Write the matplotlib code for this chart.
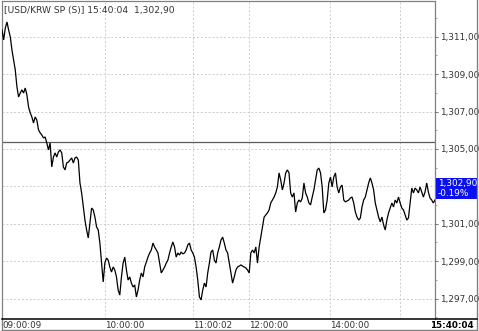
import matplotlib
matplotlib.use("Agg")
import matplotlib.pyplot as plt
import matplotlib.transforms as mtransforms
from matplotlib.patches import Rectangle
from matplotlib.lines import Line2D

# ---------------- data ----------------
title_text = "[USD/KRW SP (S)] 15:40:04  1,302,90"
last_price_label = "1,302,90"
change_label = "-0.19%"
last_price = 1302.90
prev_close = 1305.38

prices = [
    1311.36, 1310.83, 1311.47, 1311.79, 1311.36, 1310.99, 1310.29, 1309.76, 1309.22, 1308.32,
    1307.78, 1307.99, 1308.16, 1307.99, 1308.26, 1307.89, 1307.25, 1306.93, 1306.71, 1306.39,
    1306.71, 1306.55, 1306.02, 1305.86, 1305.75, 1305.59, 1305.64, 1305.32, 1304.95, 1305.32,
    1304.04, 1304.57, 1304.79, 1304.57, 1304.84, 1304.95, 1304.79, 1304.04, 1303.88, 1304.25,
    1304.30, 1304.41, 1304.52, 1304.25, 1304.52, 1304.57, 1304.41, 1303.18, 1302.65, 1301.90,
    1301.20, 1300.67, 1300.24, 1301.04, 1301.84, 1301.74, 1301.36, 1300.83, 1300.67, 1299.97,
    1298.90, 1297.89, 1298.90, 1299.17, 1299.06, 1298.69, 1298.42, 1298.69, 1298.53, 1298.16,
    1297.46, 1297.19, 1298.16, 1298.90, 1299.22, 1298.53, 1297.99, 1298.16, 1297.83, 1297.62,
    1297.73, 1297.09, 1297.46, 1297.99, 1298.37,
    1298.16, 1298.69, 1298.96, 1299.22, 1299.44, 1299.60, 1299.97, 1299.76, 1299.60, 1299.44,
    1298.90, 1298.37, 1298.53, 1298.69, 1298.90, 1299.06, 1299.44, 1299.76, 1300.03, 1299.76,
    1299.22, 1299.44, 1299.33, 1299.49, 1299.39, 1299.44, 1299.60, 1299.87, 1299.97, 1299.60,
    1299.44, 1299.22, 1298.69, 1297.99, 1297.09, 1296.93, 1297.46, 1297.83, 1297.62, 1298.37,
    1298.90, 1299.49, 1299.60, 1299.06, 1298.90, 1299.44, 1299.76, 1300.13, 1300.29, 1299.97,
    1299.60, 1299.44, 1298.90, 1298.37, 1297.83, 1298.16, 1298.53, 1298.69, 1298.74, 1298.80,
    1298.74, 1298.69, 1298.64, 1298.53, 1298.37, 1299.44, 1299.60, 1299.44, 1299.76, 1298.90,
    1299.76, 1300.29, 1300.83, 1301.36, 1301.47, 1301.58, 1301.74, 1302.11, 1302.27, 1302.43,
    1302.65, 1302.97, 1303.72, 1303.34, 1302.81, 1303.18, 1303.72, 1303.88, 1303.72, 1302.65,
    1302.43, 1302.65, 1301.63, 1302.11, 1302.27, 1302.17, 1302.38, 1303.18, 1302.65, 1302.43,
    1302.11, 1302.01, 1302.43, 1302.81, 1303.34, 1303.88, 1303.98, 1303.72, 1302.97, 1301.58,
    1301.74, 1302.27, 1303.18, 1303.50, 1302.97, 1303.50, 1303.72, 1302.97, 1302.65, 1302.97,
    1303.07, 1302.27, 1302.17, 1302.22, 1302.27, 1302.38, 1302.43, 1302.11, 1301.63, 1301.36,
    1301.20, 1301.31, 1301.90, 1302.27, 1302.43, 1302.81, 1303.18, 1303.45, 1303.18, 1302.81,
    1302.11, 1301.74, 1301.36, 1301.10, 1301.36, 1300.94, 1300.67, 1301.20, 1301.58, 1301.84,
    1302.11, 1301.90, 1302.27, 1302.11, 1302.43, 1302.11, 1301.84, 1301.74, 1301.47, 1301.20,
    1301.31, 1302.11, 1302.91, 1302.65, 1302.91, 1302.81, 1302.65, 1302.97, 1302.70, 1302.43,
    1302.70, 1303.18, 1302.70, 1302.38, 1302.27, 1302.11, 1302.27,
]

# time-axis ticks (sample index) and labels
grid_idx = [62, 115, 149, 198, 240]
time_label_idx = [0, 62, 115, 149, 198]
time_labels = ["09:00:09", "10:00:00", "11:00:02", "12:00:00", "14:00:00"]
end_time_label = "15:40:04"

price_ticks = [1297, 1299, 1301, 1303, 1305, 1307, 1309, 1311]
price_labels = ["1,297,00", "1,299,00", "1,301,00", "", "1,305,00", "1,307,00", "1,309,00", "1,311,00"]
minor_ticks = [1296, 1298, 1300, 1302, 1304, 1306, 1308, 1310, 1312]

# ---------------- figure ----------------
W, H = 479, 331
fig = plt.figure(figsize=(W / 100, H / 100), dpi=100)
fig.patch.set_facecolor("white")

def fx(px):
    return px / W

def fy(py):
    return 1 - py / H

ax_l, ax_r, ax_t, ax_b = 2, 435, 1, 319
ax = fig.add_axes([fx(ax_l), fy(ax_b), (ax_r - ax_l) / W, (ax_b - ax_t) / H])

idx = list(range(len(prices)))
ax.plot(idx, prices, color="black", lw=0.9, solid_joinstyle="miter", zorder=3)
ax.axhline(prev_close, color="#5a5a5a", lw=0.9, zorder=2)

ax.set_xlim(0, len(prices) - 1)
ax.set_ylim(1295.91, 1312.91)

ax.set_xticks(grid_idx)
ax.set_xticklabels([])
ax.tick_params(axis="x", length=0)

ax.yaxis.tick_right()
ax.set_yticks(price_ticks)
ax.set_yticklabels(price_labels)
ax.set_yticks(minor_ticks, minor=True)
ax.tick_params(axis="y", which="major", length=2.5, width=0.7, color="#777777",
               labelsize=6.4, pad=1.0, labelcolor="#333333")
ax.tick_params(axis="y", which="minor", length=1.6, width=0.6, color="#999999")

ax.grid(True, which="major", color="#cccccc", ls=(0, (2, 2)), lw=0.7)
ax.set_axisbelow(True)

for s in ["left", "right", "top"]:
    ax.spines[s].set_color("#808080")
    ax.spines[s].set_linewidth(0.9)
ax.spines["bottom"].set_visible(False)

# title
fig.text(fx(4), fy(10), title_text, fontsize=6.6, color="#333333", va="center", ha="left")

# outer frame and bottom strip
fig.add_artist(Line2D([fx(477), fx(477)], [fy(0), fy(331)], color="#808080", lw=1.0))
fig.add_artist(Line2D([fx(2), fx(477)], [fy(330), fy(330)], color="#808080", lw=1.0))
fig.add_artist(Line2D([fx(2), fx(2)], [fy(319), fy(331)], color="#808080", lw=1.0))
fig.add_artist(Line2D([fx(2), fx(477)], [fy(319), fy(319)], color="black", lw=1.1))

# time labels
trans = mtransforms.blended_transform_factory(ax.transData, fig.transFigure)
for i, lab in zip(time_label_idx, time_labels):
    fig.text(i, fy(325), lab, transform=trans, fontsize=6.3, color="#333333",
             ha="left", va="center")
fig.text(fx(474), fy(325), end_time_label, fontsize=6.3, color="black",
         fontweight="bold", ha="right", va="center")

# last price box
btrans = mtransforms.blended_transform_factory(fig.transFigure, ax.transData)
box = Rectangle((fx(436), last_price - 0.57), fx(477) - fx(436), 1.14,
                transform=btrans, facecolor="#0a10f0", edgecolor="none", clip_on=False)
fig.add_artist(box)
fig.text(fx(438), last_price + 0.27, last_price_label, transform=btrans, fontsize=6.4,
         color="white", ha="left", va="center")
fig.text(fx(438), last_price - 0.27, change_label, transform=btrans, fontsize=6.4,
         color="white", ha="left", va="center")

fig.savefig("out.png", dpi=100)
